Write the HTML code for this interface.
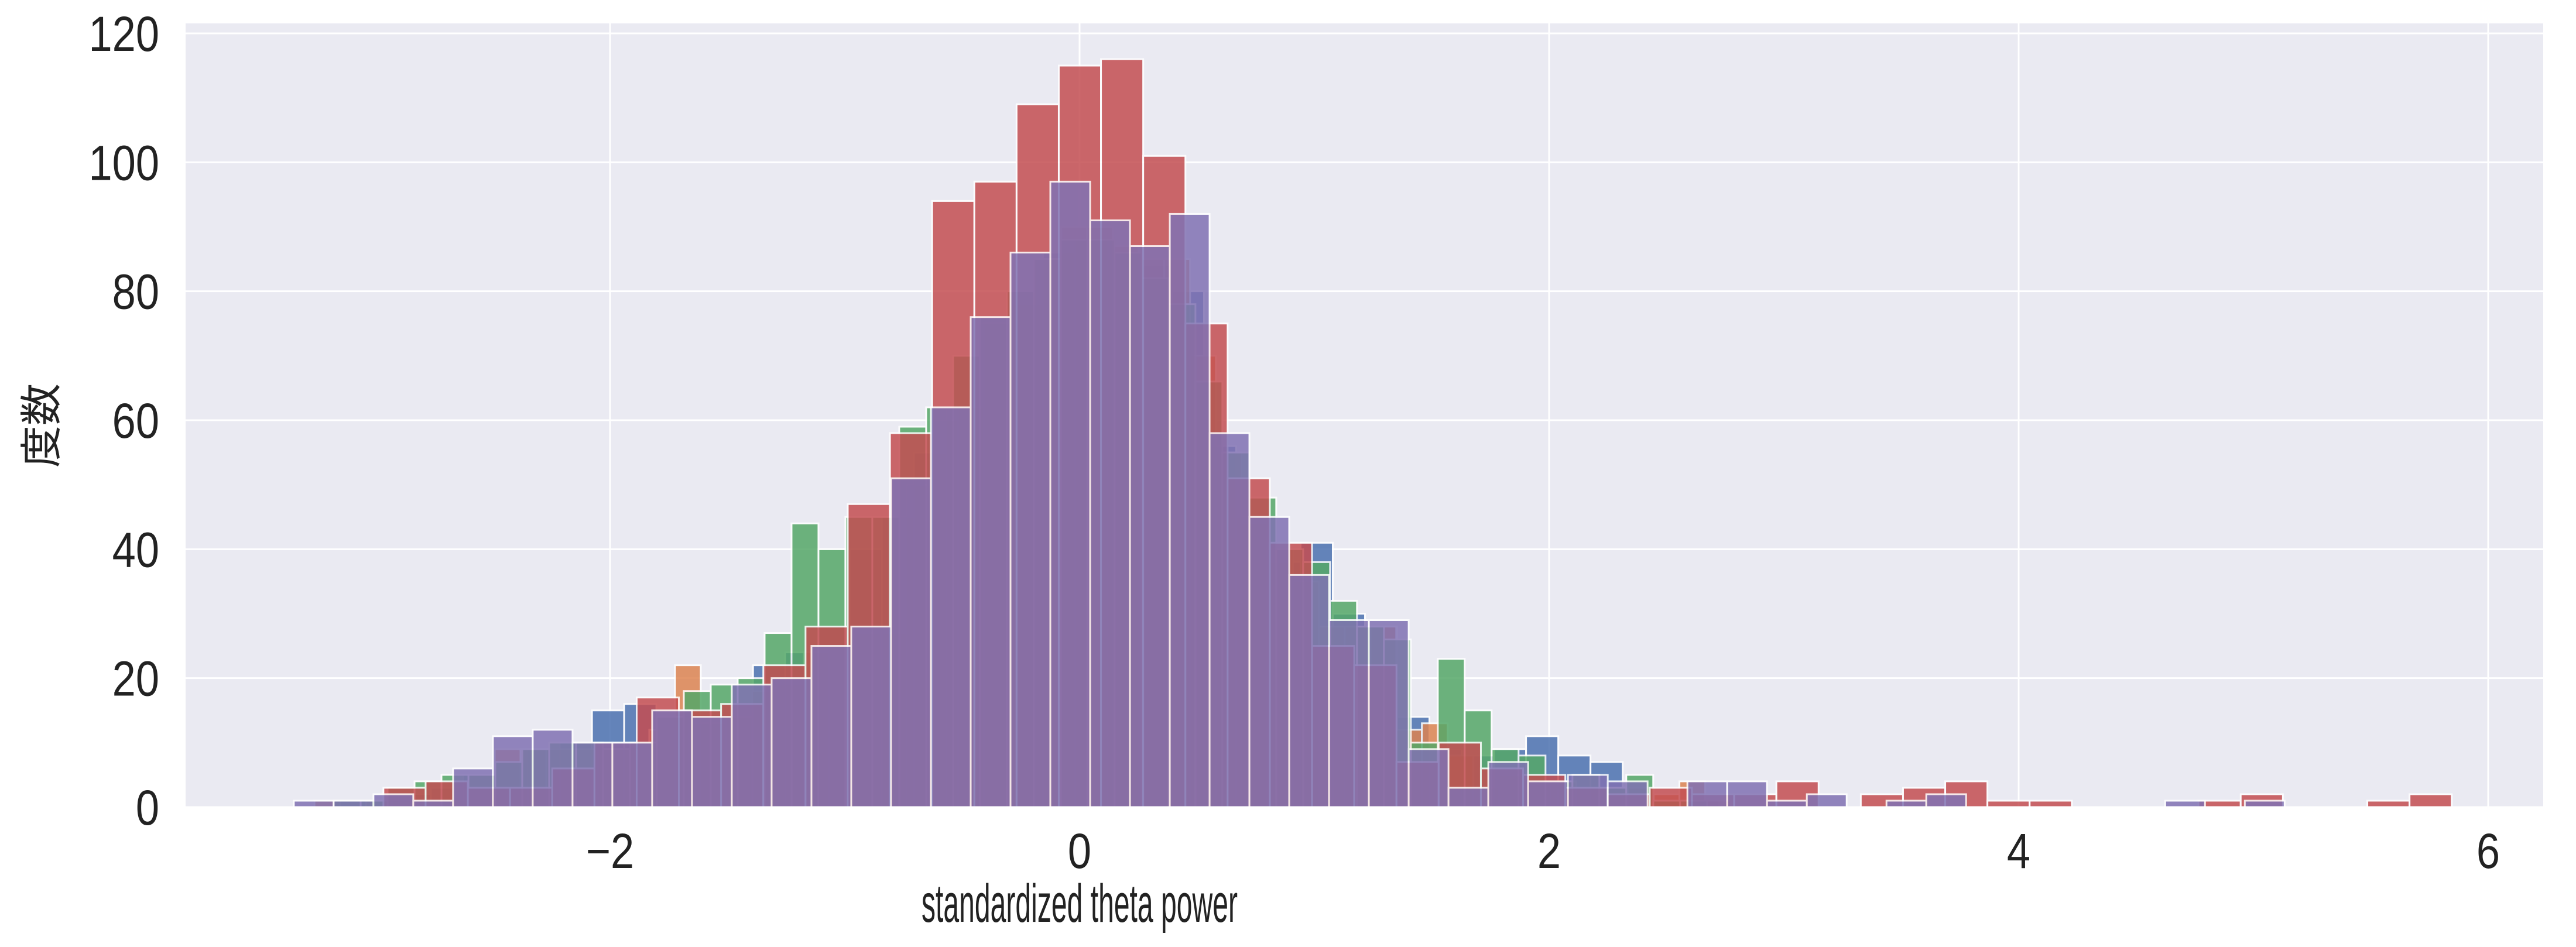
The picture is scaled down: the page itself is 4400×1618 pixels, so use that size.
<!DOCTYPE html>
<html><head><meta charset="utf-8"><style>
html,body{margin:0;padding:0;background:#fff;}
svg{display:block;}
text{font-family:"Liberation Sans","Noto Sans CJK JP",sans-serif;fill:#222;}
</style></head><body>
<svg id="chart" width="4400" height="1618" viewBox="0 0 4400 1618">
<rect x="317" y="40" width="4027" height="1340" fill="#EAEAF2"/>
<g id="grid"></g>
<g id="bars"></g>
<g id="xticks"></g>
<g id="yticks"></g>
<text x="1844" y="1575" font-size="92" text-anchor="middle" textLength="540" lengthAdjust="spacingAndGlyphs">standardized theta power</text>
<text x="0" y="0" font-size="72" text-anchor="middle" transform="translate(96,727) rotate(-90)">度数</text>
</svg>
<script>
// ---- data ----
const xTicks = [-2, 0, 2, 4, 6];
const yTicks = [0, 20, 40, 60, 80, 100, 120];
const seriesNames = ["blue", "orange", "green", "red", "purple"];
const blueStart = -3.449, blueWidth = 0.1372;
const blueCounts = [0,0,1,1,2,3,5,7,9,10,15,16,14,13,14,22,24,28,40,45,55,62,75,78,86,88,85,84,80,56,45,38,41,30,28,14,9,8,9,11,8,7,2,1,1];
const orangeStart = -3.259, orangeWidth = 0.1097;
const orangeCounts = [1,0,1,1,1,1,5,9,9,9,9,9,9,12,22,13,14,18,19,24,25,27,27,50,60,62,75,80,85,90,90,87,85,85,70,55,44,40,35,28,28,28,12,13,8,3,5,4,4,3,3,3,2,4,1];
const greenStart = -3.521, greenWidth = 0.1147;
const greenCounts = [0,0,0,1,1,3,4,5,5,7,9,10,10,9,10,14,18,19,20,27,44,40,45,45,59,62,70,76,80,85,88,88,86,82,78,66,55,48,40,38,32,28,26,10,23,15,9,8,4,5,3,5,1,1];
const redStart = -3.325, redWidth = 0.1798;
const redCounts = [0,0,3,4,3,3,6,10,17,15,16,22,28,47,58,94,97,109,115,116,101,75,51,41,25,22,7,10,6,5,3,2,3,2,2,4,0,2,3,4,1,1,0,0,0,1,2,0,0,1,2];
const purpleStart = -3.347, purpleWidth = 0.1696;
const purpleCounts = [1,1,2,1,6,11,12,10,10,15,14,19,20,25,28,51,62,76,86,97,91,87,92,58,45,36,29,29,9,3,7,4,5,4,0,4,4,1,2,0,1,2,0,0,0,0,0,1,0,1];

// ---- axes ----
const X0 = 1844, XS = 401;
const Y0 = 1379, YS = 11.017;
const PL = 317, PR = 4344, PT = 40, PB = 1380;
function xp(v){ return X0 + v*XS; }
function yp(v){ return Y0 - v*YS; }
const NS = "http://www.w3.org/2000/svg";

const grid = document.getElementById('grid');
xTicks.forEach(t=>{
  const l = document.createElementNS(NS,'line');
  
  
  l.setAttribute('x1',xp(t)); l.setAttribute('x2',xp(t));
  l.setAttribute('y1',PT); l.setAttribute('y2',PB);
  l.setAttribute('stroke','#fff'); l.setAttribute('stroke-width','3');
  grid.appendChild(l);
});
yTicks.forEach(t=>{
  const l = document.createElementNS(NS,'line');
  
  
  l.setAttribute('x1',PL); l.setAttribute('x2',PR);
  l.setAttribute('y1',yp(t)); l.setAttribute('y2',yp(t));
  l.setAttribute('stroke','#fff'); l.setAttribute('stroke-width','3');
  grid.appendChild(l);
});

const colors = {blue:"#4C72B0", orange:"#DD8452", green:"#55A868", red:"#C44E52", purple:"#8172B3"};
const seriesData = {
  blue:[blueStart,blueWidth,blueCounts],
  orange:[orangeStart,orangeWidth,orangeCounts],
  green:[greenStart,greenWidth,greenCounts],
  red:[redStart,redWidth,redCounts],
  purple:[purpleStart,purpleWidth,purpleCounts]
};
const bars = document.getElementById('bars');
seriesNames.forEach(name=>{
  const [st,w,cnt] = seriesData[name];
  const g = document.createElementNS(NS,'g');
  
  
  g.setAttribute('opacity','0.85');
  cnt.forEach((c,i)=>{
    if(c<=0) return;
    const x1 = xp(st + i*w), x2 = xp(st + (i+1)*w);
    const r = document.createElementNS(NS,'rect');
    
    
    r.setAttribute('x',x1); r.setAttribute('width',x2-x1);
    r.setAttribute('y',yp(c)); r.setAttribute('height',Y0-yp(c));
    r.setAttribute('fill',colors[name]);
    r.setAttribute('stroke','#fff'); r.setAttribute('stroke-width','3');
    g.appendChild(r);
  });
  bars.appendChild(g);
});

const xt = document.getElementById('xticks');
xTicks.forEach(t=>{
  const tx = document.createElementNS(NS,'text');
  
  
  tx.setAttribute('x',0); tx.setAttribute('y',0);
  tx.setAttribute('transform','translate('+xp(t)+',1483) scale(0.86,1)');
  tx.setAttribute('font-size','84'); tx.setAttribute('text-anchor','middle');
  tx.textContent = t<0 ? '\u2212'+Math.abs(t) : String(t);
  xt.appendChild(tx);
});
const yt = document.getElementById('yticks');
yTicks.forEach(t=>{
  const tx = document.createElementNS(NS,'text');
  
  
  tx.setAttribute('x',0); tx.setAttribute('y',0);
  tx.setAttribute('transform','translate(272,'+(yp(t)+30)+') scale(0.86,1)');
  tx.setAttribute('font-size','84'); tx.setAttribute('text-anchor','end');
  tx.textContent = String(t);
  yt.appendChild(tx);
});
</script>
</body></html>
